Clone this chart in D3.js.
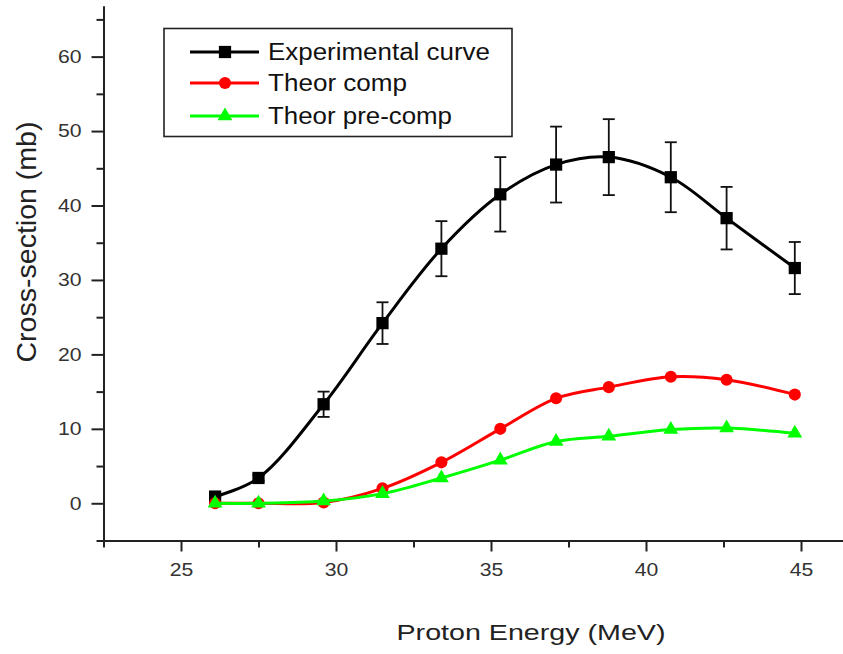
<!doctype html>
<html lang="en">
<head>
<meta charset="utf-8">
<title>Cross-section vs Proton Energy</title>
<script src="https://d3js.org/d3.v7.min.js"></script>
<style>
  body { margin: 0; background: #fff; }
  svg { display: block; }
</style>
</head>
<body>
<div id="chart"></div>
<script>
  var width = 843, height = 654;

  // data
  var energy        = [26.1, 27.5, 29.6, 31.5, 33.4, 35.3, 37.1, 38.8, 40.8, 42.6, 44.8];
  var expValues     = [0.9, 3.4, 13.3, 24.2, 34.2, 41.5, 45.5, 46.5, 43.8, 38.3, 31.6];
  var expErrors     = [0.1, 0.4, 1.7, 2.8, 3.7, 5.0, 5.1, 5.1, 4.7, 4.2, 3.5];
  var compValues    = [0, 0, 0.1, 2.0, 5.5, 10.0, 14.1, 15.6, 17.0, 16.6, 14.6];
  var precompValues = [0, 0, 0.3, 1.3, 3.4, 5.8, 8.3, 9.0, 9.9, 10.1, 9.4];
  var seriesNames   = ['Experimental curve', 'Theor comp', 'Theor pre-comp'];
  var seriesColors  = ['#000000', '#ff0000', '#00ff00'];
  var xTicks = [25, 30, 35, 40, 45];
  var xMinor = [22.5, 27.5, 32.5, 37.5, 42.5, 47.5];
  var yTicks = [0, 10, 20, 30, 40, 50, 60];
  var yMinor = [-5, 5, 15, 25, 35, 45, 55, 65];

  var x = d3.scaleLinear().domain([22.5, 47.5]).range([103.5, 878.5]);
  var y = d3.scaleLinear().domain([-5, 66.8]).range([540.5, 6]);

  var svg = d3.select('#chart').append('svg')
      .attr('width', width)
      .attr('height', height);

  var fontFam = 'Arial, "Liberation Sans", sans-serif';

  // axes: major + minor ticks
  var gx = svg.append('g').attr('transform', 'translate(0,' + y(-5) + ')');
  gx.call(d3.axisBottom(x).tickValues(xTicks).tickSize(11).tickSizeOuter(0).tickPadding(12));
  gx.append('g').call(d3.axisBottom(x).tickValues(xMinor).tickSize(7).tickSizeOuter(0).tickFormat(''));

  var gy = svg.append('g').attr('transform', 'translate(' + x(22.5) + ',0)');
  gy.call(d3.axisLeft(y).tickValues(yTicks).tickSize(12).tickSizeOuter(0).tickPadding(10));
  gy.append('g').call(d3.axisLeft(y).tickValues(yMinor).tickSize(7).tickSizeOuter(0).tickFormat(''));

  svg.selectAll('.domain').attr('stroke', '#222').attr('stroke-width', 2);
  svg.selectAll('.tick line').attr('stroke', '#222').attr('stroke-width', 2);
  svg.selectAll('.tick text')
      .attr('fill', '#333')
      .style('font-family', fontFam)
      .style('font-size', '18px')
      .attr('lengthAdjust', 'spacingAndGlyphs')
      .attr('textLength', function(d) { return String(d).length * 11.8; });

  // axis titles
  svg.append('text')
      .attr('x', 531).attr('y', 640)
      .attr('text-anchor', 'middle')
      .attr('textLength', 269).attr('lengthAdjust', 'spacingAndGlyphs')
      .style('font-family', fontFam).style('font-size', '22px')
      .attr('fill', '#222')
      .text('Proton Energy (MeV)');

  svg.append('text')
      .attr('transform', 'translate(36,242) rotate(-90)')
      .attr('text-anchor', 'middle')
      .attr('textLength', 241).attr('lengthAdjust', 'spacingAndGlyphs')
      .style('font-family', fontFam).style('font-size', '27px')
      .attr('fill', '#222')
      .text('Cross-section (mb)');

  var line = d3.line()
      .x(function(d) { return x(d[0]); })
      .y(function(d) { return y(d[1]); })
      .curve(d3.curveCatmullRom.alpha(0.5));

  var symbols = [
    d3.symbol().type(d3.symbolSquare).size(150),
    d3.symbol().type(d3.symbolCircle).size(115),
    d3.symbol().type(d3.symbolTriangle).size(95)
  ];

  var allSeries = [expValues, compValues, precompValues];

  allSeries.forEach(function(vals, s) {
    var pts = energy.map(function(e, i) { return [e, vals[i]]; });

    svg.append('path')
        .datum(pts)
        .attr('d', line)
        .attr('fill', 'none')
        .attr('stroke', seriesColors[s])
        .attr('stroke-width', 3);

    if (s === 0) {
      // error bars on the experimental curve
      var eb = svg.append('g').attr('stroke', '#111').attr('stroke-width', 1.8);
      energy.forEach(function(e, i) {
        var cx = x(e), top = y(vals[i] + expErrors[i]), bot = y(vals[i] - expErrors[i]);
        eb.append('line').attr('x1', cx).attr('x2', cx).attr('y1', top).attr('y2', bot);
        eb.append('line').attr('x1', cx - 6).attr('x2', cx + 6).attr('y1', top).attr('y2', top);
        eb.append('line').attr('x1', cx - 6).attr('x2', cx + 6).attr('y1', bot).attr('y2', bot);
      });
    }

    svg.append('g').selectAll('path')
        .data(pts)
        .enter()
        .append('path')
        .attr('d', symbols[s])
        .attr('transform', function(d) { return 'translate(' + x(d[0]) + ',' + y(d[1]) + ')'; })
        .attr('fill', seriesColors[s]);
  });

  // legend
  var legend = svg.append('g');
  legend.append('rect')
      .attr('x', 164).attr('y', 28.5)
      .attr('width', 348).attr('height', 108)
      .attr('fill', '#fff')
      .attr('stroke', '#222')
      .attr('stroke-width', 1.6);

  var legendRows = [52, 83, 116];
  var legendLengths = [222, 139, 184];

  var items = legend.selectAll('.item')
      .data(seriesNames)
      .enter()
      .append('g')
      .attr('class', 'item')
      .attr('transform', function(d, i) { return 'translate(0,' + legendRows[i] + ')'; });

  items.append('line')
      .attr('x1', 190).attr('x2', 259)
      .attr('stroke', function(d, i) { return seriesColors[i]; })
      .attr('stroke-width', 3);

  items.append('path')
      .attr('d', function(d, i) { return symbols[i](); })
      .attr('transform', 'translate(225,0)')
      .attr('fill', function(d, i) { return seriesColors[i]; });

  items.append('text')
      .attr('x', 268).attr('y', 8)
      .attr('textLength', function(d, i) { return legendLengths[i]; })
      .attr('lengthAdjust', 'spacingAndGlyphs')
      .style('font-family', fontFam).style('font-size', '23px')
      .attr('fill', '#111')
      .text(function(d) { return d; });
</script>
</body>
</html>
